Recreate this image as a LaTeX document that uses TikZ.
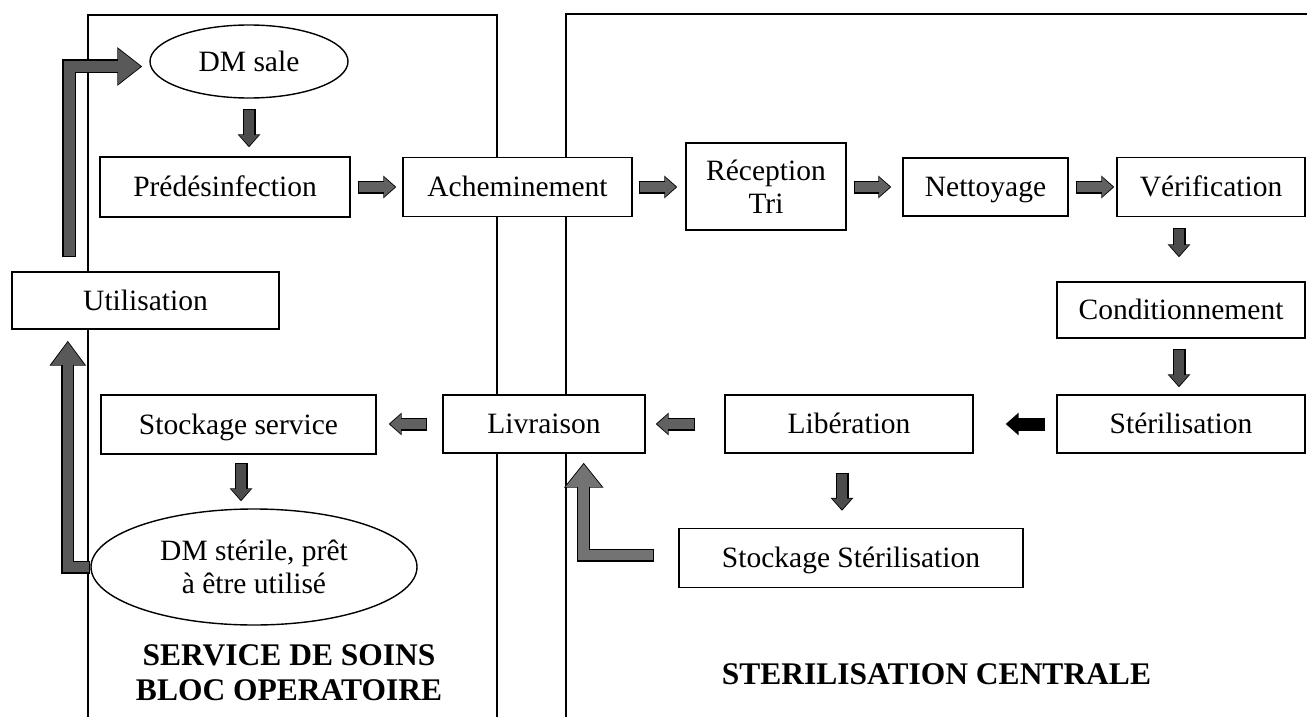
\documentclass[tikz,border=0pt]{standalone}
\usepackage{fontspec}
\setmainfont{Liberation Serif}
\usetikzlibrary{arrows.meta,shapes.geometric,calc}
\begin{document}
\begin{tikzpicture}[x=1pt,y=-1pt,
  txt/.style={font=\fontsize{29.5}{33}\selectfont},
  box/.style={draw, line width=1.4pt, fill=white, inner sep=0pt, txt, text height=20pt, text depth=1pt},
  oval/.style={draw, line width=1.4pt, fill=white, ellipse, inner sep=0pt, txt, align=center},
  panel/.style={line width=1.5pt},
  title/.style={font=\bfseries\fontsize{31.5}{35}\selectfont, align=center, inner sep=0pt},
  arrH/.style={draw=#1, line width=10.6pt, shorten >=1.4pt, shorten <=1.2pt,
    -{Triangle[width=18.6pt,length=10.8pt]},
    preaction={draw=black, line width=13pt, shorten >=0pt, shorten <=0pt,
      -{Triangle[width=22pt,length=13pt]}}},
  arrH/.default=black!62,
  arrBigA/.style={draw=#1, line width=11.6pt, shorten >=1.4pt, shorten <=1.2pt,
    -{Triangle[width=33.6pt,length=22.8pt]},
    preaction={draw=black, line width=14pt, shorten >=0pt, shorten <=0pt,
      -{Triangle[width=37pt,length=25pt]}}},
  arrBigA/.default=black!65,
  arrBigB/.style={draw=#1, line width=10.6pt, shorten >=1.4pt, shorten <=1.2pt,
    -{Triangle[width=31.6pt,length=22.8pt]},
    preaction={draw=black, line width=13pt, shorten >=0pt, shorten <=0pt,
      -{Triangle[width=35pt,length=25pt]}}},
  arrBigB/.default=black!65,
  arrBigC/.style={draw=#1, line width=10.6pt, shorten >=1.4pt, shorten <=1.2pt,
    -{Triangle[width=34.6pt,length=22.8pt]},
    preaction={draw=black, line width=13pt, shorten >=0pt, shorten <=0pt,
      -{Triangle[width=38pt,length=25pt]}}},
  arrBigC/.default=black!55
]
\useasboundingbox (0,0) rectangle (1307,717);

% panels
\draw[panel] (88,717) -- (88,15) -- (497,15) -- (497,717);
\draw[panel] (566,717) -- (566,14) -- (1307,14);

% nodes
\node[oval, minimum width=198pt, minimum height=73pt] (dmsale) at (249,61.5) {DM sale};
\node[box, minimum width=250pt, minimum height=60pt] (pre) at (225,187) {Prédésinfection};
\node[box, minimum width=229pt, minimum height=59pt] (ach) at (517.5,187) {Acheminement};
\node[box, minimum width=160pt, minimum height=87pt, align=center, text height={}, text depth={}] (rec) at (766,186.5) {Réception\\Tri};
\node[box, minimum width=165pt, minimum height=58pt] (net) at (985.5,187) {Nettoyage};
\node[box, minimum width=188pt, minimum height=59pt] (ver) at (1211,187) {Vérification};
\node[box, minimum width=248pt, minimum height=56pt] (cond) at (1181,310) {Conditionnement};
\node[box, minimum width=248pt, minimum height=58pt] (ster) at (1181,424) {Stérilisation};
\node[box, minimum width=248pt, minimum height=58pt] (lib) at (849,424) {Libération};
\node[box, minimum width=202pt, minimum height=58pt] (liv) at (544,424) {Livraison};
\node[box, minimum width=344pt, minimum height=59pt] (stks) at (851,558) {Stockage Stérilisation};
\node[box, minimum width=275pt, minimum height=59pt] (stkv) at (238.5,424.5) {Stockage service};
\node[box, minimum width=267pt, minimum height=57pt] (util) at (145.5,300.5) {Utilisation};
\node[oval, minimum width=326pt, minimum height=116pt] (dmst) at (254,567) {DM stérile, prêt\\à être utilisé};
\node[title] (t1) at (289,672.5) {SERVICE DE SOINS\\BLOC OPERATOIRE};
\node[title] (t2) at (936.5,674) {STERILISATION CENTRALE};

% top row arrows
\draw[arrH] ($(pre.east)+(7,0)$) -- ($(ach.west)+(-6,0)$);
\draw[arrH] ($(ach.east)+(6,0)$) -- ($(rec.west |- ach.east)+(-8,0)$);
\draw[arrH] ($(rec.east |- net.west)+(7,0)$) -- ($(net.west)+(-11,0)$);
\draw[arrH] ($(net.east)+(7,0)$) -- ($(ver.west)+(-2,0)$);

% down arrows
\draw[arrH=black!70] ($(dmsale.south)+(0,10)$) -- ($(dmsale.south |- pre.north)+(0,-9)$);
\draw[arrH=black!70] ($(ver.south -| cond.north)+(-2,11)$) -- ($(cond.north)+(-2,-24)$);
\draw[arrH=black!70] ($(cond.south)+(-2,10)$) -- ($(ster.north)+(-2,-7)$);
\draw[arrH=black!70] ($(stkv.south)+(2.5,8)$) -- ($(stkv.south |- dmst.north)+(2.5,-7)$);
\draw[arrH=black!70] ($(lib.south)+(-7,19)$) -- ($(lib.south |- stks.north)+(-7,-17)$);

% left arrows
\draw[arrH] ($(liv.west)+(-15,0)$) -- ($(stkv.east |- liv.west)+(12,0)$);
\draw[arrH] ($(lib.west)+(-29,0)$) -- ($(liv.east)+(10,0)$);
\draw[arrH=black] ($(ster.west)+(-11,0)$) -- ($(lib.east)+(32,0)$);

% big L-shaped arrows
\draw[arrBigA] ($(util.north west)+(58,-14)$) |- ($(dmsale.west)+(-7,5)$);
\draw[arrBigB] (dmst.west) -| ($(util.south west)+(56.5,11)$);
\draw[arrBigC] ($(stks.west)+(-24,-3)$) -| ($(liv.south east)+(-62,9)$);
\end{tikzpicture}
\end{document}
